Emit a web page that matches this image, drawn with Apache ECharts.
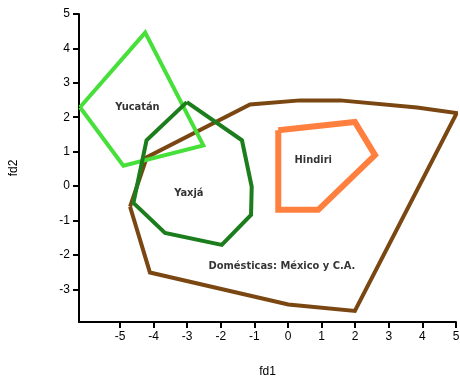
<!DOCTYPE html>
<html>
<head>
<meta charset="utf-8">
<script src="https://cdn.jsdelivr.net/npm/echarts@6/dist/echarts.min.js"></script>
<style>
  html, body { margin: 0; padding: 0; background: #ffffff; }
  #chart { width: 460px; height: 380px; }
</style>
</head>
<body>
<div id="chart"></div>
<script>
// Convex hulls of the discriminant scores (fd1, fd2) for each group
const yucatan = [[-6.19, 2.29], [-4.25, 4.46], [-2.52, 1.18], [-4.90, 0.59]];
const yaxja = [[-3.01, 2.44], [-1.37, 1.33], [-1.08, -0.02], [-1.10, -0.84],
               [-1.97, -1.71], [-3.66, -1.36], [-4.60, -0.49], [-4.21, 1.33]];
const domesticas = [[-4.70, -0.60], [-4.20, 0.84], [-1.13, 2.37], [0.36, 2.49],
                    [1.55, 2.49], [3.84, 2.28], [5.02, 2.12], [1.99, -3.63],
                    [0.01, -3.44], [-4.11, -2.51]];
const hindiri = [[-0.29, 1.62], [1.99, 1.86], [2.59, 0.90], [0.90, -0.69], [-0.29, -0.69]];

// Group names placed inside their hulls
const groupNames = ['Yucatán', 'Yaxjá', 'Hindiri', 'Domésticas: México y C.A.'];
const namePositions = [[-4.48, 2.28], [-2.95, -0.20], [0.75, 0.75], [-0.18, -2.34]];

const xTicks = [-5, -4, -3, -2, -1, 0, 1, 2, 3, 4, 5];
const yTicks = [-3, -2, -1, 0, 1, 2, 3, 4, 5];

function closed(pts) { return pts.concat([pts[0]]); }

function hull(name, pts, color, width) {
  return {
    name: name,
    type: 'line',
    data: closed(pts),
    symbol: 'none',
    clip: false,
    silent: true,
    lineStyle: { color: color, width: width, join: 'miter' },
    z: 2
  };
}

const chart = echarts.init(document.getElementById('chart'), null, { renderer: 'canvas' });

const axisText = { color: '#000', fontFamily: 'Liberation Sans', fontSize: 12 };

chart.setOption({
  animation: false,
  backgroundColor: '#ffffff',
  grid: { left: 79, right: 4, top: 14, bottom: 58, containLabel: false, outerBoundsMode: 'none' },
  xAxis: {
    type: 'value',
    min: -6.22,
    max: 5,
    name: 'fd1',
    nameLocation: 'middle',
    nameGap: 44,
    nameTextStyle: axisText,
    axisLine: { show: true, onZero: false, lineStyle: { color: '#000', width: 2 } },
    axisTick: { show: true, length: 6, customValues: xTicks, lineStyle: { color: '#000', width: 2 } },
    axisLabel: Object.assign({ customValues: xTicks, margin: 9 }, axisText),
    splitLine: { show: false }
  },
  yAxis: {
    type: 'value',
    min: -3.95,
    max: 5,
    name: 'fd2',
    nameLocation: 'middle',
    nameGap: 59,
    nameTextStyle: axisText,
    axisLine: { show: true, onZero: false, lineStyle: { color: '#000', width: 2 } },
    axisTick: { show: true, length: 6, customValues: yTicks, lineStyle: { color: '#000', width: 2 } },
    axisLabel: Object.assign({ customValues: yTicks, margin: 9 }, axisText),
    splitLine: { show: false }
  },
  series: [
    hull('Domésticas', domesticas, '#7a4712', 4),
    hull('Yucatán', yucatan, '#47e03a', 4),
    hull('Yaxjá', yaxja, '#1b7d1b', 4),
    hull('Hindiri', hindiri, '#ff7f3f', 6),
    {
      type: 'scatter',
      silent: true,
      symbolSize: 0,
      data: namePositions.map((p, i) => ({ value: p, name: groupNames[i] })),
      label: {
        show: true,
        position: 'inside',
        formatter: (d) => d.name,
        color: '#000',
        fontFamily: '"DejaVu Sans Condensed", "Liberation Sans", sans-serif',
        fontWeight: 'bold',
        fontSize: 11
      },
      z: 5
    }
  ]
});
</script>
</body>
</html>
